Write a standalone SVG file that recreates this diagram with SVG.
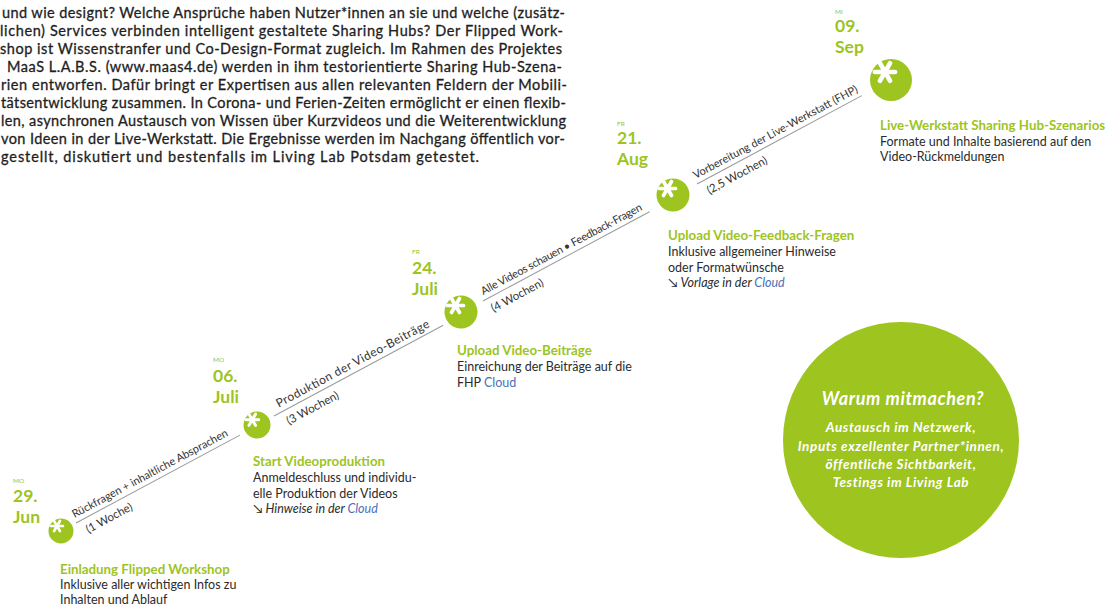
<svg xmlns="http://www.w3.org/2000/svg" xmlns:xlink="http://www.w3.org/1999/xlink" width="1112" height="607" viewBox="0 0 1112 607">
<style>
text{font-family:Lato,"DejaVu Sans",sans-serif}
.p{font-size:14.5px;fill:#1e1e1e;stroke:#1e1e1e;stroke-width:0.3px}
.dd{font-size:6.5px;fill:#9dc41f}
.dn{font-size:17.5px;font-weight:bold;fill:#9dc41f}
.t{font-size:13.3px;font-weight:bold;fill:#9dc41f}
.b{font-size:12.5px;fill:#2b2b2b}
.i{font-style:italic}
.cl{fill:#4a70b5}
.lbl{font-size:11px;fill:#333}
.lbw{font-size:12px;fill:#333}
.lb2{font-size:11.5px;fill:#333}
.seg{stroke:#9a9a9a;stroke-width:1;fill:none}
.dot{fill:#9dc41f}
.wt{fill:#fff;font-weight:bold;font-style:italic;text-anchor:middle;letter-spacing:0.6px}
</style>
<defs>
<symbol id="ast" viewBox="-10 -10 20 20">
<path d="M-7 0H7M-3.5 -6.06L3.5 6.06M3.5 -6.06L-3.5 6.06" stroke="#fff" stroke-width="3.2" stroke-linecap="round" fill="none"/>
</symbol>
</defs>
<rect width="1112" height="607" fill="#fff"/>
<g id="intro">
<text class="p" x="2" y="17.5" textLength="563" lengthAdjust="spacing">und wie designt? Welche Ansprüche haben Nutzer*innen an sie und welche (zusätz-</text>
<text class="p" x="0" y="35.5" textLength="563" lengthAdjust="spacing">lichen) Services verbinden intelligent gestaltete Sharing Hubs? Der Flipped Work-</text>
<text class="p" x="0" y="53.5" textLength="562" lengthAdjust="spacing">shop ist Wissenstranfer und Co-Design-Format zugleich. Im Rahmen des Projektes</text>
<text class="p" x="7" y="71.5" textLength="555" lengthAdjust="spacing">MaaS L.A.B.S. (www.maas4.de) werden in ihm testorientierte Sharing Hub-Szena-</text>
<text class="p" x="1" y="89.5" textLength="566" lengthAdjust="spacing">rien entworfen. Dafür bringt er Expertisen aus allen relevanten Feldern der Mobili-</text>
<text class="p" x="1" y="107.5" textLength="565" lengthAdjust="spacing">tätsentwicklung zusammen. In Corona- und Ferien-Zeiten ermöglicht er einen flexib-</text>
<text class="p" x="1" y="125.5" textLength="565" lengthAdjust="spacing">len, asynchronen Austausch von Wissen über Kurzvideos und die Weiterentwicklung</text>
<text class="p" x="1" y="143.5" textLength="564" lengthAdjust="spacing">von Ideen in der Live-Werkstatt. Die Ergebnisse werden im Nachgang öffentlich vor-</text>
<text class="p" x="1" y="161.5" textLength="478" lengthAdjust="spacing">gestellt, diskutiert und bestenfalls im Living Lab Potsdam getestet.</text>
</g>
<g id="connectors">
<g transform="translate(76 523) rotate(-28.2)">
<line class="seg" x1="0" y1="0" x2="186" y2="0"/>
<text class="lbl" x="1" y="-5" textLength="175" lengthAdjust="spacing">Rückfragen + inhaltliche Absprachen</text>
<text class="lb2" x="6" y="15">(1 Woche)</text>
</g>
<g transform="translate(274 416) rotate(-28.2)">
<line class="seg" x1="0" y1="0" x2="192" y2="0"/>
<text class="lbw" x="8" y="-5" textLength="172" lengthAdjust="spacing">Produktion der Video-Beiträge</text>
<text class="lb2" x="9" y="15">(3 Wochen)</text>
</g>
<g transform="translate(483 301) rotate(-28.2)">
<line class="seg" x1="0" y1="0" x2="189" y2="0"/>
<text class="lbl" x="3" y="-5" textLength="181" lengthAdjust="spacing">Alle Videos schauen • Feedback-Fragen</text>
<text class="lb2" x="4" y="15">(4 Wochen)</text>
</g>
<g transform="translate(697 184) rotate(-28.2)">
<line class="seg" x1="0" y1="0" x2="187" y2="0"/>
<text class="lbl" x="1" y="-5" textLength="185" lengthAdjust="spacing">Vorbereitung der Live-Werkstatt (FHP)</text>
<text class="lb2" x="6" y="15">(2,5 Wochen)</text>
</g>
</g>
<g id="n1">
<circle class="dot" cx="61" cy="531" r="12.5"/>
<use xlink:href="#ast" x="48.5" y="517.5" width="17" height="17"/>
<text class="dd" x="13" y="483">MO</text>
<text class="dn" x="13" y="502">29.<tspan x="13" dy="21">Jun</tspan></text>
<text class="t" x="60" y="574">Einladung Flipped Workshop</text>
<text class="b" x="60" y="589">Inklusive aller wichtigen Infos zu<tspan x="60" dy="15">Inhalten und Ablauf</tspan></text>
</g>
<g id="n2">
<circle class="dot" cx="257" cy="425" r="13.5"/>
<use xlink:href="#ast" x="243" y="410.5" width="18.5" height="18.5"/>
<text class="dd" x="213" y="362">MO</text>
<text class="dn" x="213" y="382">06.<tspan x="213" dy="21">Juli</tspan></text>
<text class="t" x="253" y="466">Start Videoproduktion</text>
<text class="b" x="253" y="482">Anmeldeschluss und individu-<tspan x="253" dy="15.5">elle Produktion der Videos</tspan><tspan x="253" dy="15.5">↘ </tspan><tspan class="i">Hinweise in der </tspan><tspan class="i cl">Cloud</tspan></text>
</g>
<g id="n3">
<circle class="dot" cx="461" cy="312" r="16.5"/>
<use xlink:href="#ast" x="444" y="294" width="23" height="23"/>
<text class="dd" x="412" y="254">FR</text>
<text class="dn" x="412" y="274">24.<tspan x="412" dy="21">Juli</tspan></text>
<text class="t" x="457" y="355">Upload Video-Beiträge</text>
<text class="b" x="457" y="371">Einreichung der Beiträge auf die<tspan x="457" dy="15.5">FHP </tspan><tspan class="cl">Cloud</tspan></text>
</g>
<g id="n4">
<circle class="dot" cx="673" cy="195" r="16.5"/>
<use xlink:href="#ast" x="656" y="177" width="23" height="23"/>
<text class="dd" x="617" y="126">FR</text>
<text class="dn" x="617" y="144">21.<tspan x="617" dy="21">Aug</tspan></text>
<text class="t" x="668" y="240">Upload Video-Feedback-Fragen</text>
<text class="b" x="668" y="256">Inklusive allgemeiner Hinweise<tspan x="668" dy="15.5">oder Formatwünsche</tspan><tspan x="668" dy="15.5">↘ </tspan><tspan class="i">Vorlage in der </tspan><tspan class="i cl">Cloud</tspan></text>
</g>
<g id="n5">
<circle class="dot" cx="891" cy="80" r="21"/>
<use xlink:href="#ast" x="870.5" y="57.5" width="29" height="29"/>
<text class="dd" x="835" y="14">MI</text>
<text class="dn" x="835" y="32">09.<tspan x="835" dy="21">Sep</tspan></text>
<text class="t" x="880" y="130">Live-Werkstatt Sharing Hub-Szenarios</text>
<text class="b" x="880" y="146">Formate und Inhalte basierend auf den<tspan x="880" dy="15">Video-Rückmeldungen</tspan></text>
</g>
<g id="warum">
<circle class="dot" cx="901" cy="440" r="118"/>
<text class="wt" x="903" y="405" font-size="18">Warum mitmachen?</text>
<text class="wt" font-size="13.5" y="432"><tspan x="901">Austausch im Netzwerk,</tspan><tspan x="901" dy="18.5">Inputs exzellenter Partner*innen,</tspan><tspan x="901" dy="18">öffentliche Sichtbarkeit,</tspan><tspan x="901" dy="18">Testings im Living Lab</tspan></text>
</g>
</svg>
